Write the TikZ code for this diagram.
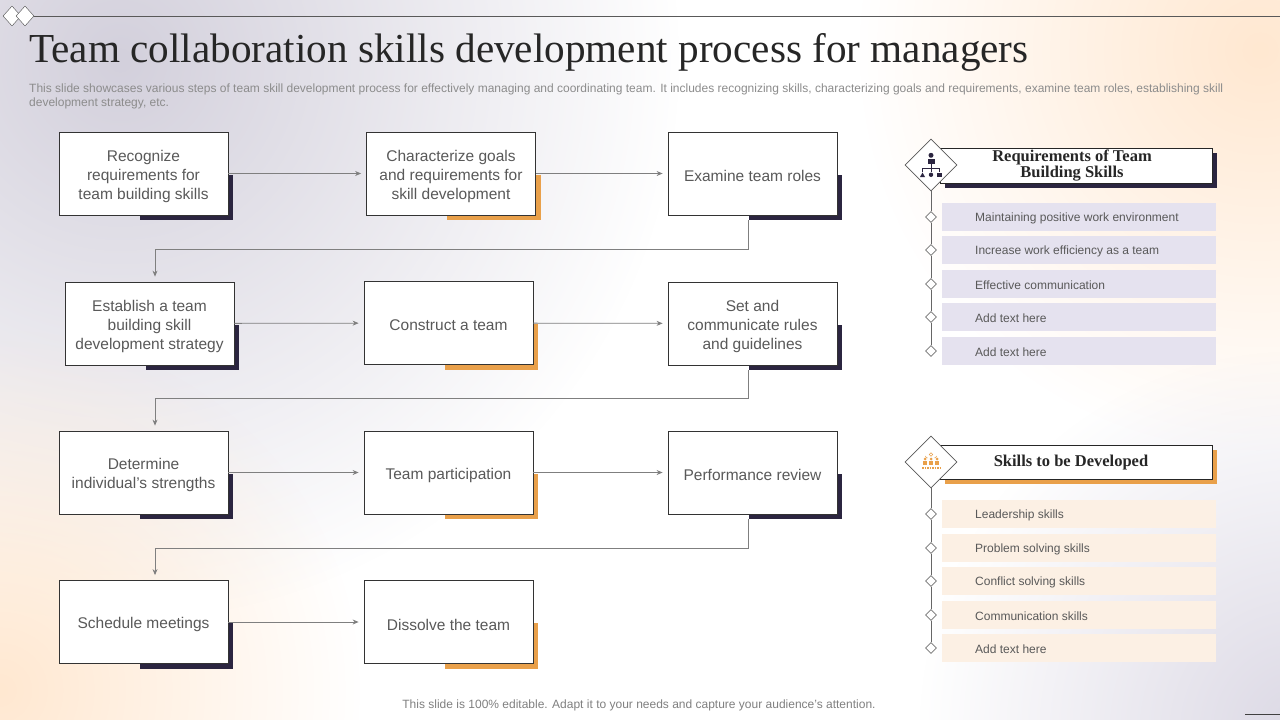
\documentclass[tikz,border=0pt]{standalone}
\usepackage{fontspec}
\setmainfont{Liberation Serif}
\setsansfont{Liberation Sans}
\usetikzlibrary{shapes.geometric,arrows.meta,fadings}
\definecolor{ink}{HTML}{2B2540}
\definecolor{amber}{HTML}{E9A04A}
\definecolor{txt}{HTML}{595959}
\definecolor{lav}{HTML}{E5E2EF}
\definecolor{peach}{HTML}{FCF0E4}
\definecolor{wire}{HTML}{7F7F7F}
\tikzfading[name=glow, inner color=transparent!0, outer color=transparent!100]
\tikzset{
  stepbox/.style={draw=black!80, line width=.8pt, fill=white, minimum width=169, minimum height=83, inner sep=0},
  steptext/.style={inner sep=0, align=center, text=txt, font=\sffamily\fontsize{15.5}{19}\selectfont},
  flow/.style={->, draw=wire, line width=.8pt, shorten >=5pt},
  headbox/.style={draw=black!85, line width=.8pt, fill=white, minimum width=272, minimum height=35, inner sep=0},
  headtext/.style={inner sep=0, align=center, text=black!85, font=\bfseries\fontsize{16.5}{16}\selectfont},
  icondia/.style={diamond, draw=black!65, line width=.6pt, fill=white, minimum width=52, minimum height=52, inner sep=0},
  dot/.style={diamond, draw=black!55, line width=.6pt, fill=white, minimum width=11, minimum height=11, inner sep=0},
  rail/.style={draw=black!60, line width=.8pt},
  bartext/.style={anchor=west, inner sep=0, text=txt, font=\sffamily\fontsize{12}{14}\selectfont}
}
\begin{document}
\begin{tikzpicture}[x=1pt, y=-1pt, >={Stealth[length=6pt,width=5pt]}]
\useasboundingbox (0,0) rectangle (1280,720);
\fill[white] (0,0) rectangle (1280,720);
\begin{scope}
\clip (0,0) rectangle (1280,720);
\fill[black!8!lav, path fading=glow] (120,60) circle (560);
\fill[orange!18, path fading=glow] (1260,50) circle (400);
\fill[orange!18, path fading=glow] (0,690) circle (360);
\fill[black!4!lav, path fading=glow] (1300,730) circle (380);
\end{scope}
% header
\node[diamond, draw=black!70, fill=white, minimum width=18, minimum height=20, inner sep=0] (d1) at (12,16) {};
\node[diamond, draw=black!70, fill=white, minimum width=18, minimum height=20, inner sep=0] (d2) at (25,16) {};
\coordinate (rule) at (1280,16);
\draw[black!65, line width=.8pt] (d2.east) -- (rule);
\node[anchor=base west, inner sep=0, text=black!85, font=\fontsize{41.2}{44}\selectfont] (title) at (29,62)
  {Team collaboration skills development process for managers};
\node[anchor=north west, inner sep=0, align=left, text=black!45, font=\sffamily\fontsize{12}{14}\selectfont] (sub) at (29,83.5)
  {This slide showcases various steps of team skill development process for effectively managing and coordinating team. It includes recognizing skills, characterizing goals and requirements, examine team roles, establishing skill\\development strategy, etc.};
% process boxes
\foreach \n/\x/\y/\c/\t in {
  A/143.5/173.5/ink/{Recognize\\requirements for\\team building skills},
  B/451/173.5/amber/{Characterize goals\\and requirements for\\skill development},
  C/752.5/173.5/ink/{Examine team roles},
  D/149.5/323.5/ink/{Establish a team\\building skill\\development strategy},
  E/448.5/323/amber/{Construct a team},
  F/752.5/323.5/ink/{Set and\\communicate rules\\and guidelines},
  G/143.5/472.5/ink/{Determine\\individual’s strengths},
  H/448.5/472.5/amber/{Team participation},
  I/752.5/472.5/ink/{Performance review},
  J/143.5/622/ink/{Schedule meetings},
  K/448.5/622/amber/{Dissolve the team}}
{
  \fill[\c] (\x-4,\y+1) rectangle (\x+89.5,\y+46.5);
  \node[stepbox] (\n) at (\x,\y) {};
  \node[steptext] (\n-text) at (\x,\y+2.5) {\t};
}
\foreach \a/\b in {A/B,B/C,D/E,E/F,G/H,H/I,J/K}
  \draw[flow] (\a) -- (\b);
\coordinate (t1) at (155,249);
\coordinate (t2) at (155,398);
\coordinate (t3) at (155,548);
\draw[flow] ([xshift=-4.5pt,yshift=-5pt]C.south) |- (t1) -- (t1 |- D.north);
\draw[flow] ([xshift=-4.5pt,yshift=-5pt]F.south) |- (t2) -- (t2 |- G.north);
\draw[flow] ([xshift=-4.5pt,yshift=-5pt]I.south) |- (t3) -- (t3 |- J.north);
% requirements panel
\fill[ink] (945,153) rectangle (1217,188);
\node[headbox] (reqhead) at (1076,165.5) {};
\node[headtext] (reqtitle) at (1072,166) {Requirements of Team\\Building Skills};
\node[icondia] (reqicon) at (931,165) {};
\fill[ink] (931,155.3) circle (2.5);
\fill[ink] (927.5,158.6) rectangle (934.5,164);
\draw[ink, line width=.7pt] (931,164) -- (931,168) (922.5,168) -- (939.5,168)
  (922.5,168) -- (922.5,171.5) (931,168) -- (931,171.5) (939.5,168) -- (939.5,171.5);
\fill[ink] (920,177) -- (922.5,172.5) -- (925,177) -- cycle;
\fill[ink] (931,174.8) circle (2.2);
\fill[ink] (937.3,172.6) rectangle (941.7,177);
\foreach \y/\t [count=\i] in {217/Maintaining positive work environment, 250/Increase work efficiency as a team,
  284/Effective communication, 317/Add text here, 351/Add text here}
{
  \fill[lav] (942,\y-14) rectangle (1216,\y+14);
  \node[bartext] (rt\i) at (975,\y+1) {\t};
  \node[dot] (r\i) at (931,\y) {};
}
\foreach \p/\q in {reqicon/r1,r1/r2,r2/r3,r3/r4,r4/r5}
  \draw[rail] (\p.south) -- (\q.north);
% skills panel
\fill[amber] (945,450) rectangle (1217,484);
\node[headbox, minimum height=34] (skillhead) at (1076,462) {};
\node[headtext] (skilltitle) at (1071,462.5) {Skills to be Developed};
\node[icondia] (skillicon) at (931,462) {};
\draw[amber, line width=.6pt] (931,454.5) circle (1.8);
\draw[amber, line width=.6pt] (925.5,456) arc (180:90:2) (936.5,456) arc (0:90:2);
\foreach \x in {925,931,937}
{
  \fill[amber] (\x,459) circle (1.5);
  \fill[amber] (\x-2.4,461) rectangle (\x+2.4,465);
}
\draw[amber, line width=1.2pt, dash pattern=on 1.5pt off 1pt] (922,468) -- (940,468);
\foreach \y/\t [count=\i] in {514/Leadership skills, 548/Problem solving skills,
  581/Conflict solving skills, 615/Communication skills, 648/Add text here}
{
  \fill[peach] (942,\y-14) rectangle (1216,\y+14);
  \node[bartext] (st\i) at (975,\y+1) {\t};
  \node[dot] (s\i) at (931,\y) {};
}
\foreach \p/\q in {skillicon/s1,s1/s2,s2/s3,s3/s4,s4/s5}
  \draw[rail] (\p.south) -- (\q.north);
% footer
\node[text=black!50, font=\sffamily\fontsize{12}{14}\selectfont] (note) at (639,705)
  {This slide is 100\% editable. Adapt it to your needs and capture your audience’s attention.};
\coordinate (c1) at (1245,714);
\coordinate (c2) at (1280,714);
\draw[black!75, line width=.8pt] (c1) -- (c2);
\end{tikzpicture}
\end{document}
